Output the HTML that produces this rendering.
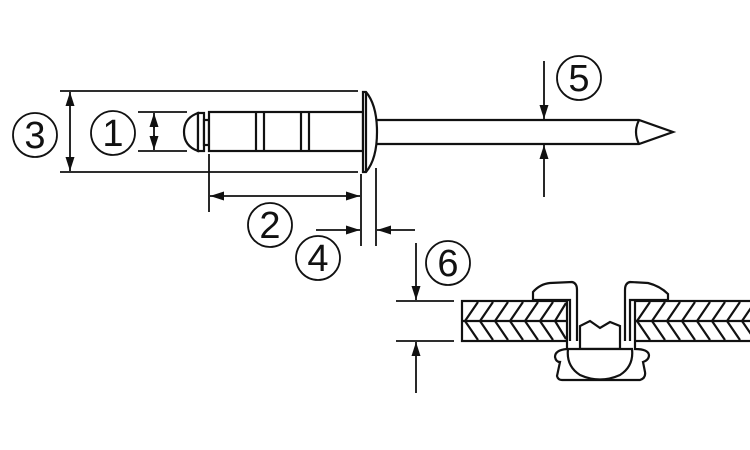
<!DOCTYPE html>
<html><head><style>html,body{margin:0;padding:0;background:#fff}svg{display:block}</style></head><body>
<svg width="750" height="450" viewBox="0 0 750 450" xmlns="http://www.w3.org/2000/svg" font-family="Liberation Sans, sans-serif">
<defs>
<marker id="a" viewBox="0 0 14 10" refX="14" refY="5" markerWidth="14" markerHeight="10" markerUnits="userSpaceOnUse" orient="auto"><path d="M0,0.5 L14,5 L0,9.5Z" fill="#111"/></marker>
</defs>
<g stroke="#111" stroke-width="1.8" fill="none">
<line x1="60" y1="91" x2="358" y2="91"/>
<line x1="60" y1="172" x2="358" y2="172"/>
<line x1="70" y1="100" x2="70" y2="92" marker-end="url(#a)"/>
<line x1="70" y1="160" x2="70" y2="171" marker-end="url(#a)"/>
<line x1="70" y1="100" x2="70" y2="160"/>
<line x1="138" y1="112" x2="187" y2="112"/>
<line x1="138" y1="151" x2="187" y2="151"/>
<line x1="154" y1="128" x2="154" y2="113" marker-end="url(#a)"/>
<line x1="154" y1="135" x2="154" y2="150" marker-end="url(#a)"/>
<line x1="154" y1="125" x2="154" y2="138"/>
<line x1="209" y1="154" x2="209" y2="212"/>
<line x1="230" y1="196" x2="210" y2="196" marker-end="url(#a)"/>
<line x1="230" y1="196" x2="340" y2="196"/>
<line x1="340" y1="196" x2="360" y2="196" marker-end="url(#a)"/>
<line x1="361" y1="174" x2="361" y2="246"/>
<line x1="376" y1="168" x2="376" y2="246"/>
<line x1="316" y1="230" x2="360" y2="230" marker-end="url(#a)"/>
<line x1="415" y1="230" x2="377" y2="230" marker-end="url(#a)"/>
<line x1="544" y1="61" x2="544" y2="119" marker-end="url(#a)"/>
<line x1="544" y1="197" x2="544" y2="145" marker-end="url(#a)"/>
<line x1="416" y1="243" x2="416" y2="300" marker-end="url(#a)"/>
<line x1="416" y1="393" x2="416" y2="342" marker-end="url(#a)"/>
<line x1="396" y1="301" x2="454" y2="301"/>
<line x1="396" y1="341" x2="454" y2="341"/>
</g>
<g stroke="#111" stroke-width="2.2" fill="#fff">
<path d="M198,113 Q184,118 184,132 Q184,146 198,151 Z"/>
<rect x="198" y="113" width="6" height="38"/>
<rect x="204" y="120" width="5" height="25"/>
<rect x="209" y="112" width="154" height="39"/>
<line x1="256" y1="112" x2="256" y2="151"/><line x1="264" y1="112" x2="264" y2="151"/>
<line x1="301" y1="112" x2="301" y2="151"/><line x1="309" y1="112" x2="309" y2="151"/>
<path d="M377,120 L639,120 L673,132 L639,144 L377,144"/>
<path d="M639,120 Q633,132 639,144" fill="none"/>
<path d="M363,92 L366,92 Q377,105 377,132 Q377,159 366,172 L363,172 Z"/>
<line x1="366" y1="92" x2="366" y2="172"/>
</g>
<g stroke="#111" stroke-width="2.2" fill="#fff">
<rect x="462" y="301" width="105" height="40"/>
<rect x="635" y="301" width="118" height="40"/>
<line x1="462" y1="321" x2="567" y2="321"/>
<line x1="635" y1="321" x2="753" y2="321"/>
</g>
<g stroke="#111" stroke-width="2.2" fill="none">
<path d="M478,302 L465,321 L478,340 M493,302 L480,321 L493,340 M508,302 L495,321 L508,340 M523,302 L510,321 L523,340 M538,302 L525,321 L538,340 M553,302 L540,321 L553,340 M566,303 L555,321 L566,339"/>
<path d="M650,302 L637,321 L650,340 M665,302 L652,321 L665,340 M680,302 L667,321 L680,340 M695,302 L682,321 L695,340 M710,302 L697,321 L710,340 M725,302 L712,321 L725,340 M740,302 L727,321 L740,340 M755,302 L742,321 L755,340"/>
</g>
<g stroke="#111" stroke-width="2.2" fill="#fff">
<path d="M533,300 L533,292 Q540,284 550,283 L572,282 Q577,283 577,290 L577,349 L570,349 L570,300 Z"/>
<path d="M668,300 L668,294 Q660,286 648,283 L630,282 Q625,283 625,290 L625,349 L630,349 L630,300 Z"/>
<path d="M567,341 L567,349 Q555,350 555,357 Q556,362 560,362 L557,376 Q558,380 562,380 L640,380 Q646,378 645,372 L643,362 Q649,360 649,355 Q648,349 635,349 L635,341"/>
<path d="M580,349 L580,326 L590,321 L600,328 L610,322 L620,326 L620,349 Z"/>
<path d="M568,349 L632,349 Q634,366 620,375 Q600,384 580,375 Q566,366 568,349 Z"/>
</g>
<g font-size="38" fill="#111" text-anchor="middle">
<g stroke="#111" stroke-width="1.8" fill="none">
<circle cx="35" cy="135" r="22"/><circle cx="113" cy="133" r="22"/>
<circle cx="270" cy="225" r="22"/><circle cx="318" cy="258" r="22"/>
<circle cx="579" cy="78" r="22"/><circle cx="448" cy="263" r="22"/>
</g>
<text x="35" y="148">3</text><text x="113" y="146">1</text>
<text x="270" y="238">2</text><text x="318" y="271">4</text>
<text x="579" y="91">5</text><text x="448" y="276">6</text>
</g>
</svg>
</body></html>
